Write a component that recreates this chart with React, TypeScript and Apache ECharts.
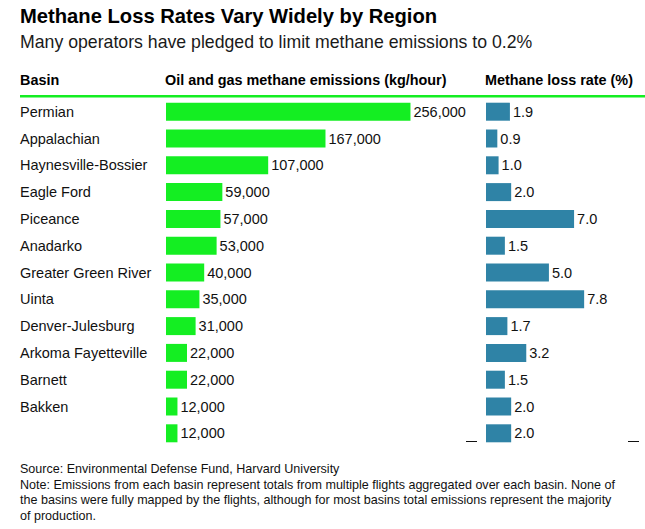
import React, { useEffect, useRef } from "react";
import * as echarts from "echarts";

const basins = [
  "Permian",
  "Appalachian",
  "Haynesville-Bossier",
  "Eagle Ford",
  "Piceance",
  "Anadarko",
  "Greater Green River",
  "Uinta",
  "Denver-Julesburg",
  "Arkoma Fayetteville",
  "Barnett",
  "Bakken",
  "",
];
const emissions = [256000, 167000, 107000, 59000, 57000, 53000, 40000, 35000, 31000, 22000, 22000, 12000, 12000];
const lossRates = [1.9, 0.9, 1.0, 2.0, 7.0, 1.5, 5.0, 7.8, 1.7, 3.2, 1.5, 2.0, 2.0];

const titleText = "Methane Loss Rates Vary Widely by Region";
const subtitleText = "Many operators have pledged to limit methane emissions to 0.2%";
const headerBasin = "Basin";
const headerEmissions = "Oil and gas methane emissions (kg/hour)";
const headerLoss = "Methane loss rate (%)";
const footerLines = [
  "Source: Environmental Defense Fund, Harvard University",
  "Note: Emissions from each basin represent totals from multiple flights aggregated over each basin. None of",
  "the basins were fully mapped by the flights, although for most basins total emissions represent the majority",
  "of production.",
];

const FONT = "'Liberation Sans', Arial, Helvetica, sans-serif";
const GREEN = "#14ee22";
const BLUE = "#2f83a6";

export default function App() {
  const ref = useRef<HTMLDivElement>(null);

  useEffect(() => {
    if (!ref.current) return;
    const chart = echarts.init(ref.current, null, { renderer: "svg" });
    const gridTop = 98.3;
    const gridHeight = 348.4;
    const option: any = {
      animation: false,
      backgroundColor: "#ffffff",
      textStyle: { fontFamily: FONT },
      grid: [
        { left: 166, top: gridTop, width: 305.6, height: gridHeight },
        { left: 486, top: gridTop, width: 151, height: gridHeight },
      ],
      xAxis: [
        { type: "value", gridIndex: 0, min: 0, max: 320000, show: false },
        { type: "value", gridIndex: 1, min: 0, max: 12, show: false },
      ],
      yAxis: [
        {
          type: "category",
          gridIndex: 0,
          data: basins,
          inverse: true,
          axisLine: { show: false },
          axisTick: { show: false },
          splitLine: { show: false },
          axisLabel: {
            align: "left",
            margin: 146,
            fontSize: 14.5,
            color: "#111111",
            fontFamily: FONT,
            padding: [0, 0, 2, 0],
          },
        },
        {
          type: "category",
          gridIndex: 1,
          data: basins,
          inverse: true,
          show: false,
        },
      ],
      series: [
        {
          type: "bar",
          xAxisIndex: 0,
          yAxisIndex: 0,
          data: emissions,
          barWidth: 18,
          itemStyle: { color: GREEN },
          label: {
            show: true,
            position: "right",
            distance: 3,
            fontSize: 14.5,
            color: "#111111",
            fontFamily: FONT,
            formatter: (p: any) => Number(p.value).toLocaleString("en-US"),
          },
        },
        {
          type: "bar",
          xAxisIndex: 1,
          yAxisIndex: 1,
          data: lossRates,
          barWidth: 18,
          itemStyle: { color: BLUE },
          label: {
            show: true,
            position: "right",
            distance: 3,
            fontSize: 14.5,
            color: "#111111",
            fontFamily: FONT,
            formatter: (p: any) => Number(p.value).toFixed(1),
          },
        },
      ],
      graphic: [
        {
          type: "text",
          left: 20,
          top: 6,
          style: { text: titleText, font: `bold 20.2px ${FONT}`, fill: "#000000" },
        },
        {
          type: "text",
          left: 20,
          top: 33,
          style: { text: subtitleText, font: `17.7px ${FONT}`, fill: "#1a1a1a" },
        },
        {
          type: "text",
          left: 20,
          top: 73,
          style: { text: headerBasin, font: `bold 14.4px ${FONT}`, fill: "#000000" },
        },
        {
          type: "text",
          left: 165,
          top: 73,
          style: { text: headerEmissions, font: `bold 14.4px ${FONT}`, fill: "#000000" },
        },
        {
          type: "text",
          left: 485,
          top: 73,
          style: { text: headerLoss, font: `bold 14.4px ${FONT}`, fill: "#000000" },
        },
        {
          type: "rect",
          shape: { x: 20, y: 95, width: 625, height: 2.6 },
          style: { fill: GREEN },
        },
        {
          type: "line",
          shape: { x1: 466, y1: 441.5, x2: 477, y2: 441.5 },
          style: { stroke: "#111111", lineWidth: 1 },
        },
        {
          type: "line",
          shape: { x1: 628, y1: 441.5, x2: 639, y2: 441.5 },
          style: { stroke: "#111111", lineWidth: 1 },
        },
        ...footerLines.map((t, i) => ({
          type: "text",
          left: 20,
          top: 462.5 + i * 15.7,
          style: { text: t, font: `12.55px ${FONT}`, fill: "#111111" },
        })),
      ],
    };
    chart.setOption(option);
    return () => chart.dispose();
  }, []);

  return (
    <div
      ref={ref}
      style={{ position: "fixed", left: 0, top: 0, width: 645, height: 529 }}
    />
  );
}
